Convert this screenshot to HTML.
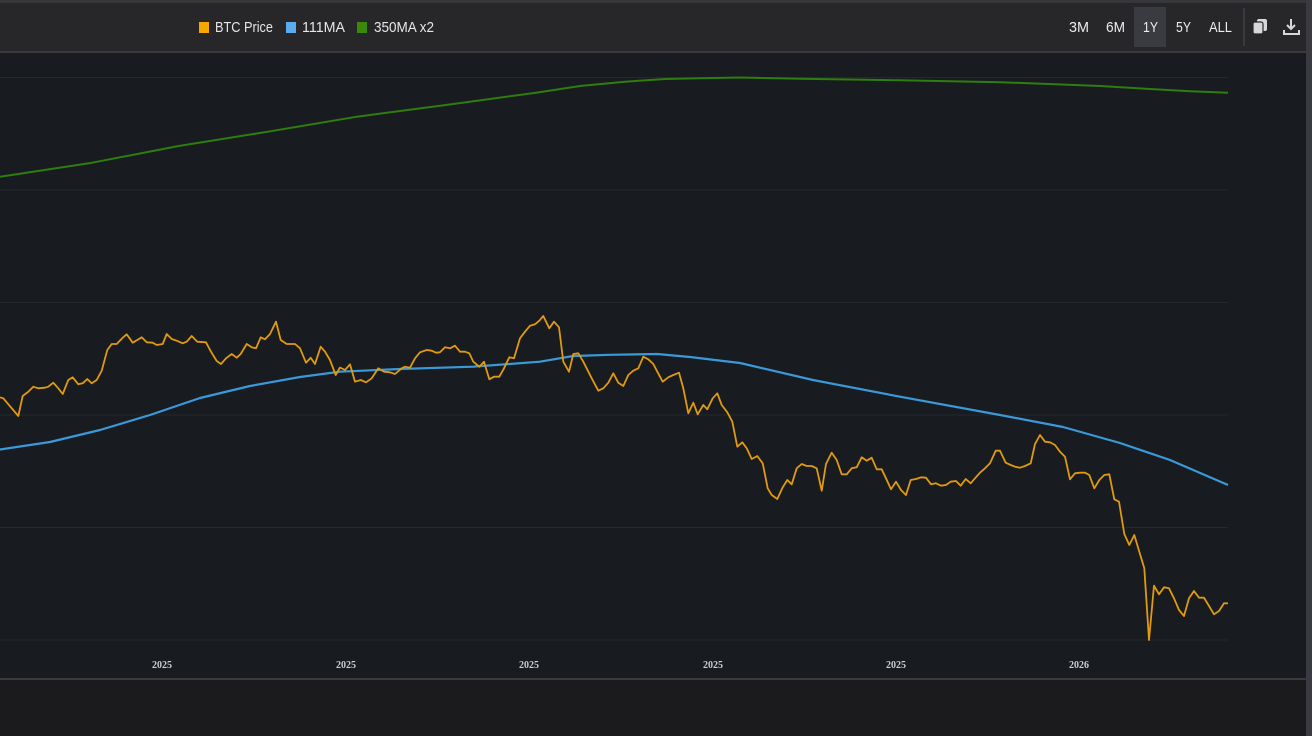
<!DOCTYPE html>
<html><head><meta charset="utf-8"><style>
html,body{margin:0;padding:0;background:#1a1a1c;width:1312px;height:736px;overflow:hidden}
svg{display:block}
</style></head><body>
<svg width="1312" height="736" viewBox="0 0 1312 736" xmlns="http://www.w3.org/2000/svg">
<!-- backgrounds -->
<rect x="0" y="0" width="1312" height="736" fill="#1a1a1c"/>
<rect x="0" y="0" width="1306" height="3" fill="#37373b"/>
<rect x="0" y="3" width="1306" height="48" fill="#27272a"/>
<rect x="0" y="51" width="1306" height="2" fill="#3a3a3e"/>
<rect x="0" y="53" width="1306" height="625" fill="#181b20"/>
<rect x="0" y="678" width="1306" height="2" fill="#3a3a3e"/>
<rect x="0" y="680" width="1306" height="56" fill="#1b1b1d"/>
<rect x="1306" y="0" width="6" height="736" fill="#3a3b40"/>

<!-- legend -->
<g font-family="'Liberation Sans', sans-serif" font-size="15" fill="#e6e6e6">
<rect x="199" y="22" width="10" height="11" fill="#f5a800"/>
<text x="215" y="32" textLength="58" lengthAdjust="spacingAndGlyphs">BTC Price</text>
<rect x="286" y="22" width="10" height="11" fill="#5aabf0"/>
<text x="302" y="32" textLength="43" lengthAdjust="spacingAndGlyphs">111MA</text>
<rect x="357" y="22" width="10" height="11" fill="#3a8a0a"/>
<text x="374" y="32" textLength="60" lengthAdjust="spacingAndGlyphs">350MA x2</text>
</g>

<!-- range buttons -->
<rect x="1134" y="7" width="32" height="40" fill="#3a3b40"/>
<g font-family="'Liberation Sans', sans-serif" font-size="15" fill="#ececec">
<text x="1069" y="32" textLength="20" lengthAdjust="spacingAndGlyphs">3M</text>
<text x="1106" y="32" textLength="19" lengthAdjust="spacingAndGlyphs">6M</text>
<text x="1143" y="32" textLength="15" lengthAdjust="spacingAndGlyphs">1Y</text>
<text x="1176" y="32" textLength="15" lengthAdjust="spacingAndGlyphs">5Y</text>
<text x="1209" y="32" textLength="23" lengthAdjust="spacingAndGlyphs">ALL</text>
</g>
<rect x="1243" y="8" width="2" height="38" fill="#3a3a3e"/>
<!-- copy icon -->
<rect x="1257" y="19" width="10" height="12" rx="2" fill="#d8d8d8"/>
<rect x="1253" y="22" width="10" height="12" rx="2" fill="#d8d8d8" stroke="#27272a" stroke-width="1.2"/>
<!-- download icon -->
<path d="M1291 19 V28 M1287 25 L1291 29 L1295 25" stroke="#d8d8d8" stroke-width="2" fill="none"/>
<path d="M1284 30 V34 H1299 V30" stroke="#d8d8d8" stroke-width="2" fill="none"/>

<!-- grid -->
<g stroke="#25282d" stroke-width="1">
<line x1="0" y1="77.5" x2="1228" y2="77.5"/>
<line x1="0" y1="190" x2="1228" y2="190"/>
<line x1="0" y1="302.5" x2="1228" y2="302.5"/>
<line x1="0" y1="415" x2="1228" y2="415"/>
<line x1="0" y1="527.5" x2="1228" y2="527.5"/>
<line x1="0" y1="640" x2="1228" y2="640"/>
</g>

<!-- x labels -->
<g font-family="'Liberation Serif', serif" font-weight="bold" font-size="10" fill="#cfcfcf" text-anchor="middle">
<text x="162" y="668" textLength="20" lengthAdjust="spacingAndGlyphs">2025</text>
<text x="346" y="668" textLength="20" lengthAdjust="spacingAndGlyphs">2025</text>
<text x="529" y="668" textLength="20" lengthAdjust="spacingAndGlyphs">2025</text>
<text x="713" y="668" textLength="20" lengthAdjust="spacingAndGlyphs">2025</text>
<text x="896" y="668" textLength="20" lengthAdjust="spacingAndGlyphs">2025</text>
<text x="1079" y="668" textLength="20" lengthAdjust="spacingAndGlyphs">2026</text>
</g>

<!-- 350MA x2 -->
<path fill="none" stroke="#2f7d0c" stroke-width="2" stroke-linejoin="round"
d="M0 176.7 L89 163.3 L178.6 146 L268 131.7 L357 116.7 L446 105 L536 92.7 L580 86 L625 81.7 L665 79 L700 78.3 L740 77.5 L800 78.8 L900 80.3 L1000 82.2 L1100 86 L1150 89 L1190 91.3 L1228 92.8"/>

<!-- 111MA -->
<path fill="none" stroke="#3a9ad9" stroke-width="2.2" stroke-linejoin="round"
d="M0 449.5 L50 442 L100 430 L150 415 L200 398 L250 386 L300 377 L340 371.7 L400 369 L473 366.7 L540 361.7 L573 356 L610 354.8 L657 354 L690 357 L740 363 L813 380 L900 396.7 L1000 415 L1063 427 L1120 443 L1170 460 L1228 485"/>

<!-- BTC price -->
<path fill="none" stroke="#e09a10" stroke-width="1.8" stroke-linejoin="round"
d="M0 397.3 L3.3 398.3 L18.3 416 L22.7 396 L28.3 391.7 L33.3 386.7 L38.3 388.3 L45 387.7 L48.3 386.7 L53.3 382.7 L58.3 388.3 L62.7 394 L68.3 380 L72.7 377.3 L78.3 384.3 L82.7 383.3 L87.3 379 L91.7 383.3 L96.7 380 L101.7 370.7 L107.3 350 L111.7 344 L116.7 344 L122.7 337.7 L126.7 334.3 L132.7 342.7 L137.3 340 L141.7 337.3 L146.7 342.3 L152.7 342.7 L156.7 345 L162.7 344 L166.7 334 L171.7 339 L176.7 340.7 L182.7 343.3 L186.7 341.7 L191.7 336 L197.3 341.7 L206 342.3 L211 351.7 L216.7 361 L221 364 L226 358.3 L231.7 354 L236.7 357.7 L240.7 354 L246.7 344 L251.7 347.3 L256 348.3 L260.7 337.3 L265 339.3 L270 334 L276 321.7 L280.7 340 L286.7 344 L295 344 L300 348.3 L306 362.7 L310.7 357.7 L315 364 L320.7 346.7 L325 351.7 L330 360 L335.7 375 L340 367.5 L345 370 L350 364.3 L355 381.7 L360.7 380 L366 382.3 L371.7 378.3 L378.3 368.3 L384 371.7 L390 372.3 L395 374 L401.7 368.3 L405 366.7 L410 367.7 L415 358.3 L420 352.3 L426.7 350 L431.7 350.7 L436 352.7 L440 352.3 L445 347.3 L450 348.3 L455 345.7 L460 351.7 L465 351.7 L469.3 353.3 L473.3 361.7 L479.3 366.7 L484 361.7 L489.3 379.3 L494 376.7 L499.3 376.7 L504 368.3 L509.3 357.3 L514 358.3 L520 338.3 L525 331.7 L530 325.7 L535 324.3 L539.3 320.7 L543.3 316 L549.3 328.3 L554 321.7 L559 327.3 L563.3 361.7 L569 371.7 L573.3 354 L578.3 353.3 L583.3 361.7 L591.7 378.3 L598.3 390.7 L603.3 388.3 L608.3 382.7 L613.3 373.3 L618.3 382.7 L623.3 386 L628.3 375 L633.3 370.7 L638.3 368.3 L643.3 356.7 L648.3 359.3 L653.3 364 L657.3 371.7 L662.7 381.7 L668.3 377.3 L673.3 375 L679 372.7 L683.3 388.3 L688.3 413.3 L693.3 402.7 L697.7 414.3 L703.3 405 L707.3 409.3 L712.7 398.3 L717.3 393.3 L721.7 405 L727.3 412.3 L732.3 421.7 L737.3 446.7 L742.3 442.3 L746.7 448.3 L751.7 459 L757.3 456 L762.7 463.3 L767.7 488.3 L771.7 495 L777.3 499 L782.7 487.3 L787.3 480 L791.7 484.3 L796.7 468.3 L801.7 464 L806.7 466 L811.7 466 L816.7 468.3 L821.7 490.7 L826 464 L831.7 452.7 L836.7 460 L841.7 474.3 L846.7 474.3 L851.7 468.3 L856.7 467.3 L861.7 457.3 L866.7 460.7 L871.7 457.7 L876.7 469.3 L881.7 469.3 L886 478.3 L891 489.3 L896 481.7 L901 490 L906 495 L910.7 480 L916 479 L921 477.3 L926 477.7 L931 484.3 L936 483.3 L941 485.7 L946 485 L950.7 481.7 L956 481 L960.7 485.7 L965.7 479 L970.7 483.3 L975 478.3 L980 472.7 L985 468.3 L990 463.3 L995.7 450.7 L1000 450.7 L1005.7 462.7 L1010.7 465 L1015 466.7 L1020 467.7 L1025 466 L1030.7 463.3 L1035 444 L1040 435 L1045 441.7 L1050 442.3 L1055 445 L1060 451.7 L1065 456.7 L1070 479.3 L1075 473.3 L1080 472.7 L1085 472.7 L1089.3 475 L1094.3 488.3 L1099.3 480 L1104.3 475 L1109.3 474.3 L1114.3 499.3 L1119 501.7 L1124.3 534 L1129.3 545 L1134.3 535 L1139.3 551.7 L1144.3 568.3 L1149 640 L1154 585.7 L1159 594.3 L1164 587.3 L1169 588.3 L1174 598.3 L1179 610 L1184 616 L1189 598.3 L1194 591 L1199 597.7 L1204 597.7 L1209 606 L1214 614.3 L1219 611 L1224 603.3 L1228 603.3"/>
</svg>
</body></html>
